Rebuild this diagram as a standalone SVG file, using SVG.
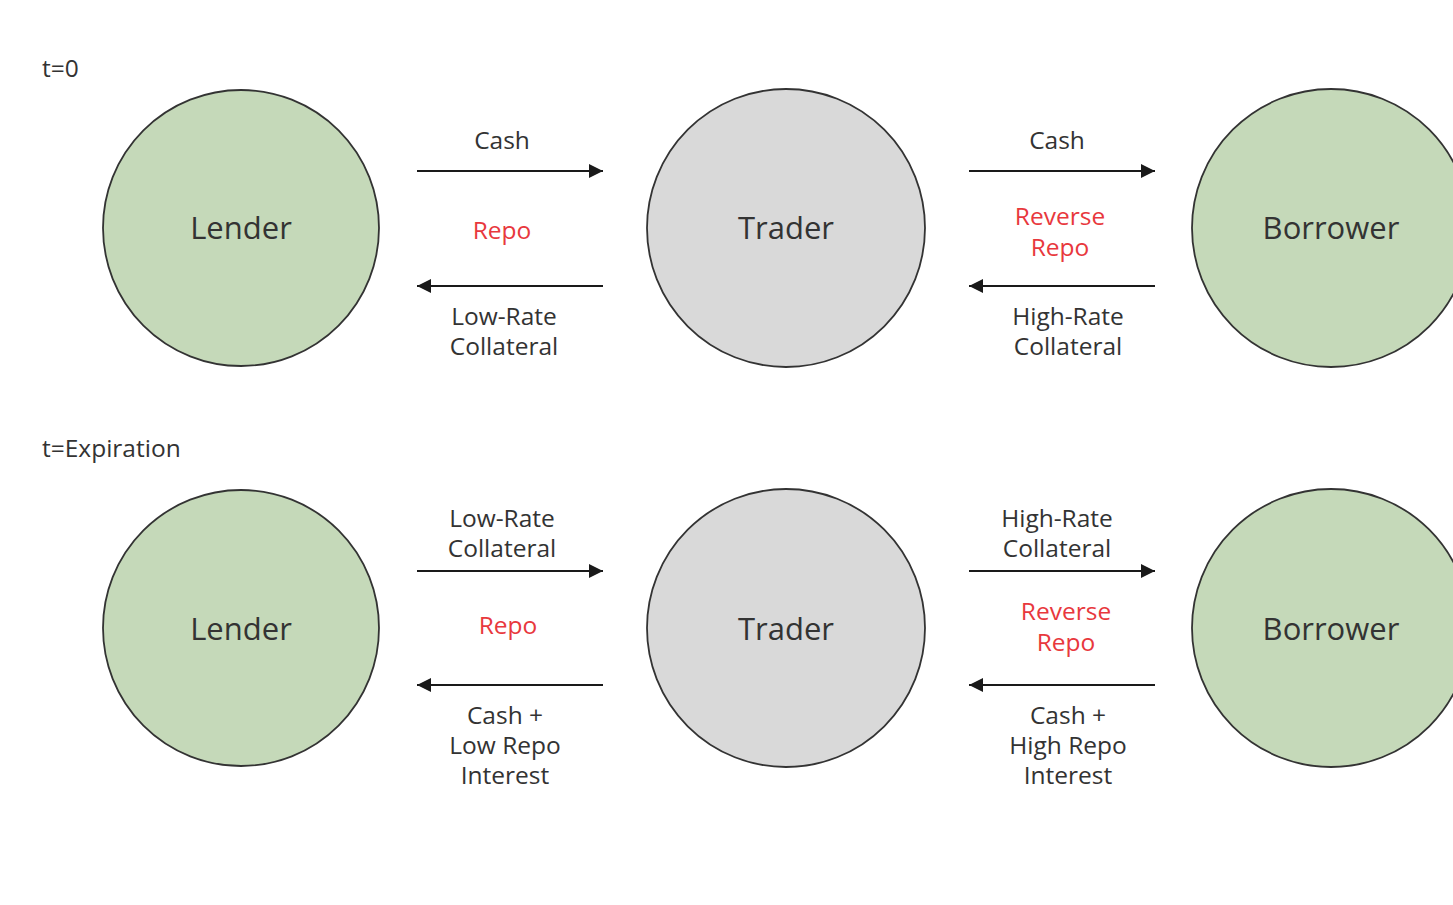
<svg xmlns="http://www.w3.org/2000/svg" width="1453" height="905" viewBox="0 0 1453 905">
<defs>
<marker id="ah" viewBox="0 0 10 10" refX="10" refY="5" markerWidth="14" markerHeight="14" markerUnits="userSpaceOnUse" orient="auto">
<path d="M0,0 L10,5 L0,10 z" fill="#1a1a1a"/>
</marker>
<style>
text{font-family:"Open Sans","Noto Sans",sans-serif;fill:#333;text-anchor:middle}
.lbl{font-size:24.5px}
.red{fill:#e8383d}
.node{font-size:31px}
.hdr{font-size:24.5px;text-anchor:start}
.g{fill:#c5d9b9;stroke:#333;stroke-width:1.8}
.gr{fill:#d9d9d9;stroke:#333;stroke-width:1.8}
.ln{stroke:#1a1a1a;stroke-width:2;fill:none;marker-end:url(#ah)}
</style>
</defs>
<rect width="1453" height="905" fill="#fff"/>
<text class="hdr" x="42" y="77">t=0</text>
<text class="hdr" x="42" y="457">t=Expiration</text>
<g id="lender1"><circle class="g" cx="241" cy="228" r="138"/><text class="node" x="241" y="239">Lender</text></g>
<g id="trader1"><circle class="gr" cx="786" cy="228" r="139"/><text class="node" x="786" y="239">Trader</text></g>
<g id="borrower1"><circle class="g" cx="1331" cy="228" r="139"/><text class="node" x="1331" y="239">Borrower</text></g>
<g id="lender2"><circle class="g" cx="241" cy="628" r="138"/><text class="node" x="241" y="640">Lender</text></g>
<g id="trader2"><circle class="gr" cx="786" cy="628" r="139"/><text class="node" x="786" y="640">Trader</text></g>
<g id="borrower2"><circle class="g" cx="1331" cy="628" r="139"/><text class="node" x="1331" y="640">Borrower</text></g>
<g id="connectors">
<line class="ln" x1="417" y1="171" x2="603" y2="171"/>
<line class="ln" x1="603" y1="286" x2="417" y2="286"/>
<line class="ln" x1="969" y1="171" x2="1155" y2="171"/>
<line class="ln" x1="1155" y1="286" x2="969" y2="286"/>
<line class="ln" x1="417" y1="571" x2="603" y2="571"/>
<line class="ln" x1="603" y1="685" x2="417" y2="685"/>
<line class="ln" x1="969" y1="571" x2="1155" y2="571"/>
<line class="ln" x1="1155" y1="685" x2="969" y2="685"/>
</g>
<g id="labels">
<text class="lbl" x="502" y="149">Cash</text>
<text class="lbl red" x="502" y="239">Repo</text>
<text class="lbl" x="504" y="325">Low-Rate</text>
<text class="lbl" x="504" y="355">Collateral</text>
<text class="lbl" x="1057" y="149">Cash</text>
<text class="lbl red" x="1060" y="225">Reverse</text>
<text class="lbl red" x="1060" y="256">Repo</text>
<text class="lbl" x="1068" y="325">High-Rate</text>
<text class="lbl" x="1068" y="355">Collateral</text>
<text class="lbl" x="502" y="527">Low-Rate</text>
<text class="lbl" x="502" y="557">Collateral</text>
<text class="lbl red" x="508" y="634">Repo</text>
<text class="lbl" x="505" y="724">Cash +</text>
<text class="lbl" x="505" y="754">Low Repo</text>
<text class="lbl" x="505" y="784">Interest</text>
<text class="lbl" x="1057" y="527">High-Rate</text>
<text class="lbl" x="1057" y="557">Collateral</text>
<text class="lbl red" x="1066" y="620">Reverse</text>
<text class="lbl red" x="1066" y="651">Repo</text>
<text class="lbl" x="1068" y="724">Cash +</text>
<text class="lbl" x="1068" y="754">High Repo</text>
<text class="lbl" x="1068" y="784">Interest</text>
</g>
</svg>
